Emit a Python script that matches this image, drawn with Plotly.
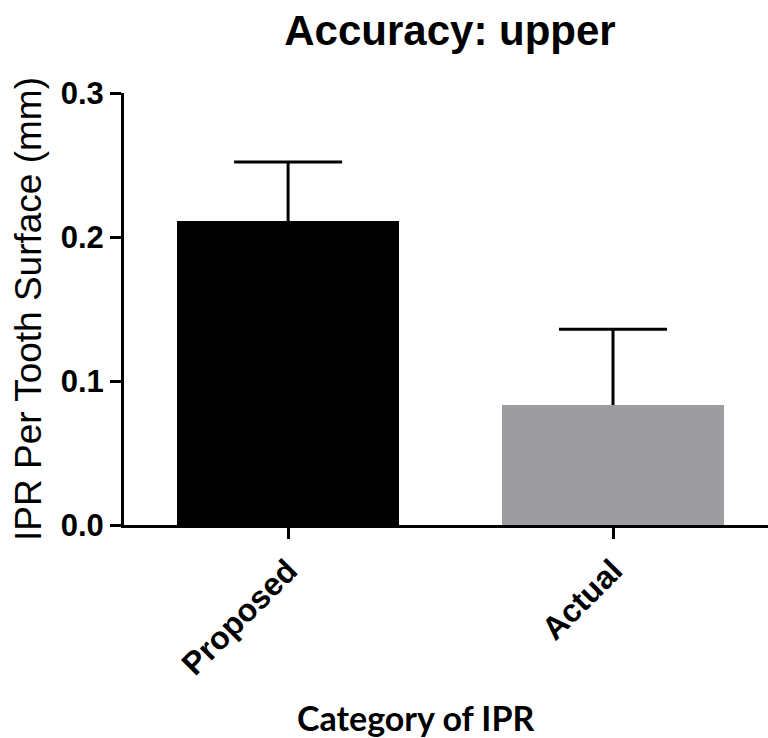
import plotly.graph_objects as go

# IPR per tooth surface, upper arch
categories = ["Proposed", "Actual"]
means = [0.211, 0.083]
sd_upper = [0.041, 0.053]
bar_colors = ["#000000", "#9d9ca1"]
y_ticks = [0.0, 0.1, 0.2, 0.3]
y_tick_labels = ["0.0", "0.1", "0.2", "0.3"]

W, H = 768, 738
L, R, T, B = 124, 0, 93, 213
Y_RANGE = [0, 0.3]

fig = go.Figure()

# Symmetric SD whiskers on the base axis; the bars sit on an overlaid
# axis so they hide the lower half of each whisker.
fig.add_trace(
    go.Scatter(
        x=categories,
        y=means,
        mode="markers",
        marker=dict(size=1, opacity=0),
        error_y=dict(
            type="data",
            array=sd_upper,
            color="#000000",
            thickness=3,
            width=54,
        ),
        hoverinfo="skip",
    )
)
fig.add_trace(
    go.Bar(
        x=categories,
        y=means,
        width=0.683,
        yaxis="y2",
        marker=dict(color=bar_colors, line=dict(width=0)),
    )
)

sans = "Liberation Sans, Arial, sans-serif"

fig.update_layout(
    width=W,
    height=H,
    margin=dict(l=L, r=R, t=T, b=B, pad=0),
    paper_bgcolor="#ffffff",
    plot_bgcolor="#ffffff",
    showlegend=False,
    bargap=0,
    title=dict(
        text="<b>Accuracy: upper</b>",
        x=450 / W,
        xanchor="center",
        y=1 - 30 / H,
        yanchor="middle",
        font=dict(family=sans, size=42, color="#000000"),
    ),
    xaxis=dict(
        range=[-0.505, 1.477],
        showline=True,
        linecolor="#000000",
        linewidth=3,
        ticks="outside",
        ticklen=11,
        tickwidth=3,
        tickcolor="#000000",
        tickangle=-45,
        tickfont=dict(family=sans, size=32, color="#000000", weight="bold"),
        showgrid=False,
        zeroline=False,
    ),
    yaxis=dict(
        range=Y_RANGE,
        tickvals=y_ticks,
        ticktext=y_tick_labels,
        showline=True,
        linecolor="#000000",
        linewidth=3,
        ticks="outside",
        ticklen=11,
        tickwidth=3,
        tickcolor="#000000",
        tickfont=dict(family=sans, size=31, color="#000000", weight="bold"),
        showgrid=False,
        zeroline=False,
    ),
    yaxis2=dict(
        range=Y_RANGE,
        overlaying="y",
        visible=False,
        showgrid=False,
        zeroline=False,
    ),
    annotations=[
        dict(
            text="IPR Per Tooth Surface (mm)",
            textangle=-90,
            xref="paper",
            yref="paper",
            x=(28 - L) / (W - L - R),
            y=(H - B - 309) / (H - T - B),
            xanchor="center",
            yanchor="middle",
            showarrow=False,
            font=dict(family=sans, size=37, color="#000000"),
        ),
        dict(
            text="<b>Category of IPR</b>",
            xref="paper",
            yref="paper",
            x=(415 - L) / (W - L - R),
            y=-(717 - (H - B)) / (H - T - B),
            xanchor="center",
            yanchor="middle",
            showarrow=False,
            font=dict(family="Lato, Open Sans, sans-serif", size=34, color="#000000"),
        ),
    ],
)

fig.write_html("out.html")
